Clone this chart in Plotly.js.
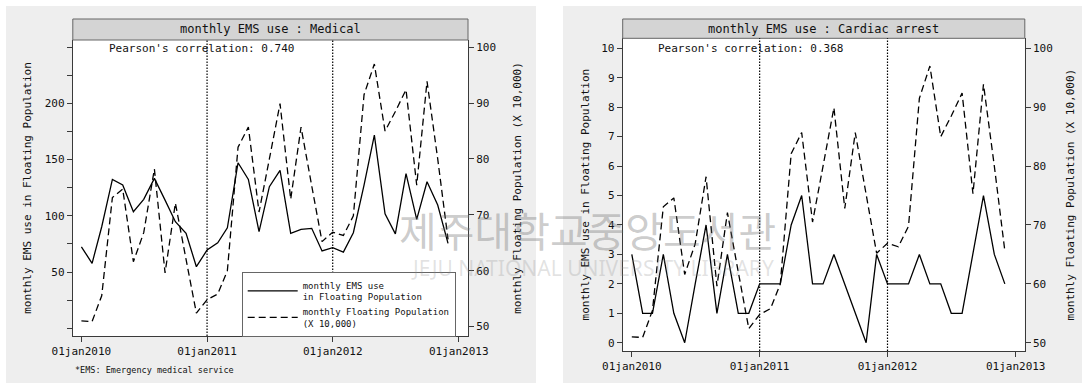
<!DOCTYPE html>
<html>
<head>
<meta charset="utf-8">
<script src="https://cdn.plot.ly/plotly-3.0.1.min.js"></script>
<style>html,body{margin:0;padding:0;background:#fff;}#chart{width:1087px;height:387px;}</style>
</head>
<body>
<div id="chart"></div>
<script>
// ---- data ----
const months = [
  '2010-01-01','2010-02-01','2010-03-01','2010-04-01','2010-05-01','2010-06-01',
  '2010-07-01','2010-08-01','2010-09-01','2010-10-01','2010-11-01','2010-12-01',
  '2011-01-01','2011-02-01','2011-03-01','2011-04-01','2011-05-01','2011-06-01',
  '2011-07-01','2011-08-01','2011-09-01','2011-10-01','2011-11-01','2011-12-01',
  '2012-01-01','2012-02-01','2012-03-01','2012-04-01','2012-05-01','2012-06-01',
  '2012-07-01','2012-08-01','2012-09-01','2012-10-01','2012-11-01','2012-12-01'
];
// monthly floating population (x 10,000)
const floatingPop = [
  51.0, 50.9, 55.5, 73.1, 74.6, 61.6, 66.8, 78.2, 59.6, 72.1, 62.0, 52.4,
  54.8, 55.8, 60.0, 82.1, 85.7, 70.5, 80.0, 89.9, 72.8, 85.7, 75.2, 65.2,
  66.9, 66.3, 69.8, 91.5, 97.0, 85.0, 88.5, 92.4, 75.3, 93.9, 80.0, 65.6
];
// monthly EMS use in floating population : Medical
const emsMedical = [
  72.5, 57.8, 90.3, 132.4, 127.4, 103.7, 114.7, 133.3, 114.0, 94.8, 84.4, 54.8,
  69.6, 76.1, 89.4, 147.2, 132.4, 85.9, 125.9, 140.5, 84.4, 88.0, 88.9, 68.8,
  71.7, 67.8, 85.0, 127.4, 171.8, 101.8, 84.0, 137.5, 96.9, 130.3, 109.6, 75.6
];
// monthly EMS use in floating population : Cardiac arrest
const emsCardiac = [
  3, 1, 1, 3, 1, 0, 2, 4, 1, 3, 1, 1,
  2, 2, 2, 4, 5, 2, 2, 3, 2, 1, 0, 3,
  2, 2, 2, 3, 2, 2, 1, 1, 3, 5, 3, 2
];
const panelTitles = ['monthly EMS use : Medical', 'monthly EMS use : Cardiac arrest'];
const pearson = ['0.740', '0.368'];
const xTickVals = ['2010-01-01', '2011-01-01', '2012-01-01', '2013-01-01'];
const xTickText = ['01jan2010', '01jan2011', '01jan2012', '01jan2013'];
const yearLines = ['2011-01-01', '2012-01-01'];
const medTickVals = [0, 25, 50, 75, 100, 125, 150, 175, 200, 225, 250];
const medTickText = ['', '', '50', '', '100', '', '150', '', '200', '', ''];
const cardTickVals = [0, 1, 2, 3, 4, 5, 6, 7, 8, 9, 10];
const popTickVals = [50, 60, 70, 80, 90, 100];
const seriesNames = ['monthly EMS use<br>in Floating Population', 'monthly Floating Population<br>(X 10,000)'];

// ---- layout helpers ----
const W = 1087, H = 387;
const px = v => v / W;
const py = v => 1 - v / H;
const MONO = 'DejaVu Sans Mono, monospace';
const AX = '#3a3a3a';

const solid = {color: '#000', width: 1.3};
const dashed = {color: '#000', width: 1.3, dash: '7px,4px'};

const traces = [
  {x: months, y: emsMedical, xaxis: 'x', yaxis: 'y', type: 'scatter', mode: 'lines',
   name: seriesNames[0], line: solid, showlegend: true},
  {x: months, y: floatingPop, xaxis: 'x', yaxis: 'y2', type: 'scatter', mode: 'lines',
   name: seriesNames[1], line: dashed, showlegend: true},
  {x: months, y: emsCardiac, xaxis: 'x2', yaxis: 'y3', type: 'scatter', mode: 'lines',
   name: seriesNames[0], line: solid, showlegend: false},
  {x: months, y: floatingPop, xaxis: 'x2', yaxis: 'y4', type: 'scatter', mode: 'lines',
   name: seriesNames[1], line: dashed, showlegend: false}
];

const tickFont = {family: MONO, size: 11, color: '#111'};
const titleFont = {family: MONO, size: 11, color: '#111'};

function xAxis(domain, anchor, range) {
  return {domain: domain, anchor: anchor, type: 'date', range: range,
    tickmode: 'array', tickvals: xTickVals, ticktext: xTickText,
    ticks: 'outside', ticklen: 5, tickcolor: AX, tickwidth: 1,
    showline: true, linecolor: AX, linewidth: 1, showgrid: false, zeroline: false,
    tickfont: tickFont, fixedrange: true};
}
function yLeft(domain, anchor, range, vals, text, stand) {
  return {domain: domain, anchor: anchor, range: range,
    tickmode: 'array', tickvals: vals, ticktext: text,
    ticks: 'outside', ticklen: 5, tickcolor: AX, tickwidth: 1,
    showline: true, linecolor: AX, linewidth: 1, showgrid: false, zeroline: false,
    tickfont: tickFont,
    title: {text: 'monthly EMS use in Floating Population', font: titleFont, standoff: stand}};
}
function yRight(over, anchor, range, stand) {
  return {overlaying: over, side: 'right', anchor: anchor, range: range,
    tickmode: 'array', tickvals: popTickVals,
    ticks: 'outside', ticklen: 5, tickcolor: AX, tickwidth: 1,
    showline: true, linecolor: AX, linewidth: 1, showgrid: false, zeroline: false,
    tickfont: tickFont,
    title: {text: 'monthly Floating Population (X 10,000)', font: titleFont, standoff: stand}};
}

// plot areas (pixels)
const P1 = {l: 72.8, r: 468, t: 40, b: 336, ht: 19};
const P2 = {l: 622.7, r: 1024.8, t: 38.3, b: 351, ht: 19};

const shapes = [
  // gray graph regions
  {type: 'rect', xref: 'paper', yref: 'paper', x0: px(6), x1: px(536), y0: py(383), y1: py(6),
   fillcolor: '#eeeeee', line: {width: 0}, layer: 'below'},
  {type: 'rect', xref: 'paper', yref: 'paper', x0: px(563), x1: px(1082), y0: py(383), y1: py(6),
   fillcolor: '#eeeeee', line: {width: 0}, layer: 'below'},
  // white plot regions
  {type: 'rect', xref: 'paper', yref: 'paper', x0: px(P1.l), x1: px(P1.r), y0: py(P1.b), y1: py(P1.t),
   fillcolor: '#ffffff', line: {width: 0}, layer: 'below'},
  {type: 'rect', xref: 'paper', yref: 'paper', x0: px(P2.l), x1: px(P2.r), y0: py(P2.b), y1: py(P2.t),
   fillcolor: '#ffffff', line: {width: 0}, layer: 'below'},
  // header bars
  {type: 'rect', xref: 'paper', yref: 'paper', x0: px(P1.l), x1: px(P1.r), y0: py(P1.t), y1: py(P1.ht),
   fillcolor: '#d4d4d4', line: {color: '#666', width: 1}},
  {type: 'rect', xref: 'paper', yref: 'paper', x0: px(P2.l), x1: px(P2.r), y0: py(P2.t), y1: py(P2.ht),
   fillcolor: '#d4d4d4', line: {color: '#666', width: 1}}
];
// dotted year lines
yearLines.forEach(d => {
  shapes.push({type: 'line', xref: 'x', yref: 'y domain', x0: d, x1: d, y0: 0, y1: 1,
    line: {color: '#000', width: 1.2, dash: '1.5px,1.5px'}});
  shapes.push({type: 'line', xref: 'x2', yref: 'y3 domain', x0: d, x1: d, y0: 0, y1: 1,
    line: {color: '#000', width: 1.2, dash: '1.5px,1.5px'}});
});

const annotations = [
  {xref: 'paper', yref: 'paper', x: px((P1.l + P1.r) / 2), y: py((P1.t + P1.ht) / 2),
   text: panelTitles[0], showarrow: false, font: {family: MONO, size: 12, color: '#111'},
   xanchor: 'center', yanchor: 'middle'},
  {xref: 'paper', yref: 'paper', x: px((P2.l + P2.r) / 2), y: py((P2.t + P2.ht) / 2),
   text: panelTitles[1], showarrow: false, font: {family: MONO, size: 12, color: '#111'},
   xanchor: 'center', yanchor: 'middle'},
  {xref: 'paper', yref: 'paper', x: px(107), y: py(48.5),
   text: "Pearson's correlation: " + pearson[0], showarrow: false,
   font: {family: MONO, size: 11, color: '#111'}, xanchor: 'left', yanchor: 'middle'},
  {xref: 'paper', yref: 'paper', x: px(656), y: py(48.5),
   text: "Pearson's correlation: " + pearson[1], showarrow: false,
   font: {family: MONO, size: 11, color: '#111'}, xanchor: 'left', yanchor: 'middle'},
  {xref: 'paper', yref: 'paper', x: px(73), y: py(370),
   text: '*EMS: Emergency medical service', showarrow: false,
   font: {family: MONO, size: 8.5, color: '#111'}, xanchor: 'left', yanchor: 'middle'},
  // library watermark
  {xref: 'paper', yref: 'paper', x: px(587), y: py(229),
   text: '제주대학교중앙도서관', showarrow: false,
   font: {family: 'Noto Sans CJK KR', size: 41, color: 'rgba(110,110,110,0.36)'},
   xanchor: 'center', yanchor: 'middle'},
  {xref: 'paper', yref: 'paper', x: px(592), y: py(268),
   text: 'JEJU NATIONAL UNIVERSITY LIBRARY', showarrow: false,
   font: {family: 'Noto Sans', size: 21, color: 'rgba(140,140,140,0.25)'},
   xanchor: 'center', yanchor: 'middle'}
];

const layout = {
  width: W, height: H,
  margin: {l: 0, r: 0, t: 0, b: 0},
  paper_bgcolor: '#ffffff', plot_bgcolor: 'rgba(0,0,0,0)',
  font: {family: MONO, color: '#111'},
  xaxis: xAxis([px(P1.l), px(P1.r)], 'y', ['2009-12-07', '2013-01-28']),
  yaxis: yLeft([py(P1.b), py(P1.t)], 'x', [-6.8, 256.3], medTickVals, medTickText, 10),
  yaxis2: yRight('y', 'x', [48.3, 101.3], 18),
  xaxis2: xAxis([px(P2.l), px(P2.r)], 'y3', ['2009-12-06', '2013-01-27']),
  yaxis3: yLeft([py(P2.b), py(P2.t)], 'x2', [-0.28, 10.34], cardTickVals, cardTickVals.map(String), 9),
  yaxis4: yRight('y3', 'x2', [48.6, 101.7], 14),
  showlegend: true,
  legend: {x: px(241.7), y: py(271.7), xanchor: 'left', yanchor: 'top',
    bgcolor: '#ffffff', bordercolor: '#666', borderwidth: 1,
    font: {family: MONO, size: 9, color: '#111'}, itemwidth: 50,
    tracegroupgap: 2, traceorder: 'normal'},
  shapes: shapes,
  annotations: annotations
};

Plotly.newPlot('chart', traces, layout, {displayModeBar: false, staticPlot: true});
</script>
</body>
</html>
